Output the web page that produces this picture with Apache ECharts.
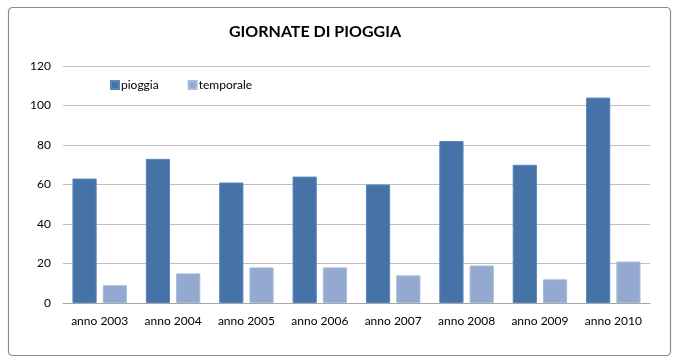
<!DOCTYPE html>
<html><head><meta charset="utf-8">
<script src="https://cdn.jsdelivr.net/npm/echarts@6/dist/echarts.min.js"></script>
<style>html,body{margin:0;padding:0;background:#fff}#c{width:674px;height:359px}</style>
</head><body><div id="c"></div>
<script>
const categories = ['anno 2003','anno 2004','anno 2005','anno 2006','anno 2007','anno 2008','anno 2009','anno 2010'];
const pioggia = [63,73,61,64,60,82,70,104];
const temporale = [9,15,18,18,14,19,12,21];
const yTicks = {min:0,max:120,interval:20};
const font = 'Lato, "Open Sans", sans-serif';
const chart = echarts.init(document.getElementById('c'));
chart.setOption({
  animation:false,
  graphic:[{type:'rect',left:6,top:5,shape:{width:662,height:348,r:4},style:{fill:'none',stroke:'#8c8c8c',lineWidth:1.2},silent:true}],
  title:{text:'GIORNATE DI PIOGGIA',left:310,top:19,textAlign:'center',textStyle:{fontFamily:font,fontWeight:'bold',fontSize:16,color:'#000'}},
  legend:{left:105,top:74,itemWidth:8,itemHeight:8,itemGap:29,icon:'rect',textStyle:{fontFamily:font,fontSize:12,color:'#000',padding:[0,0,0,-3]},data:['pioggia','temporale']},
  grid:{left:63,right:24,top:66,bottom:56},
  xAxis:{type:'category',data:categories,axisTick:{show:false},axisLine:{lineStyle:{color:'#a6a6a6'}},axisLabel:{interval:0,fontFamily:font,fontSize:12,color:'#000',margin:12}},
  yAxis:{type:'value',min:yTicks.min,max:yTicks.max,interval:yTicks.interval,axisLine:{show:false},axisTick:{show:false},splitLine:{lineStyle:{color:'#bfbfbf'}},axisLabel:{fontFamily:font,fontSize:12,color:'#000',margin:12}},
  series:[
    {name:'pioggia',type:'bar',data:pioggia,barWidth:'33%',barGap:'25%',itemStyle:{color:'#4572a7',borderColor:'#5b86b8',borderWidth:1}},
    {name:'temporale',type:'bar',data:temporale,barWidth:'33%',barGap:'25%',itemStyle:{color:'#93a9cf',borderColor:'#a9bcdc',borderWidth:1}}
  ]
});
</script></body></html>
